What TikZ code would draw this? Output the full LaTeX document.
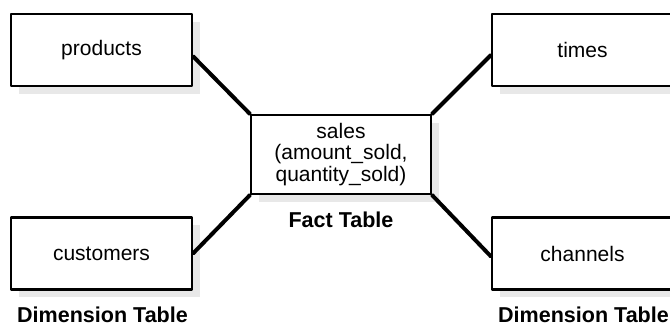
\documentclass[tikz,border=0pt]{standalone}
\usepackage{fontspec}
\setmainfont{Liberation Sans}
\usetikzlibrary{shadows}

\begin{document}
\begin{tikzpicture}[line cap=round,line join=round,x=1.0cm,y=1.0cm,
  tbl/.style={draw,line width=2.3pt,fill=white,minimum width=7.24cm,minimum height=2.88cm,
    drop shadow={shadow xshift=0.32cm,shadow yshift=-0.32cm,fill=black!9,opacity=1},
    font=\fontsize{23.9}{24.5}\selectfont},
  link/.style={line width=4.5pt},
  caption/.style={font=\fontsize{24.5}{26}\selectfont\bfseries,inner sep=0pt}]
\useasboundingbox (0,0) rectangle (26.8,13);
\clip(0,0) rectangle (26.8,13);
% dimension tables
\node[tbl] (products) at (4.06,11.) {products};
\node[tbl] (customers) at (4.06,2.86) {customers};
\node[tbl] (times) at (23.3,11.) {times};
\node[tbl] (channels) at (23.3,2.86) {channels};
% fact table
\node[tbl,align=center,minimum width=7.2cm,minimum height=3.16cm] (sales) at (13.64,6.82) {sales\\(amount\_sold,\\quantity\_sold)};
\draw [link] ([yshift=-0.25cm]products.east)-- (sales.north west);
\draw [link] (customers.east)-- (sales.south west);
\draw [link] ([yshift=-0.2cm]times.west)-- (sales.north east);
\draw [link] ([yshift=-0.12cm]channels.west)-- (sales.south east);
\node[caption,anchor=base] (factlbl) at (13.64,3.88) {Fact Table};
\node[caption,anchor=base west] (dimlblleft) at (0.68,0.08) {Dimension Table};
\node[caption,anchor=base west] (dimlblright) at (19.92,0.08) {Dimension Table};
\end{tikzpicture}
\end{document}
